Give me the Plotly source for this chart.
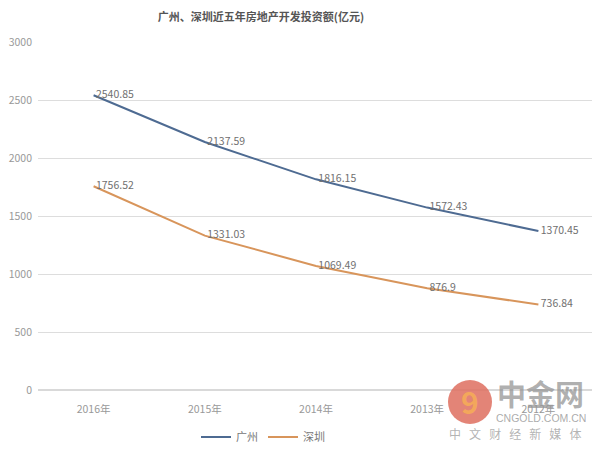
import plotly.graph_objects as go

years = ["2016年", "2015年", "2014年", "2013年", "2012年"]
guangzhou = [2540.85, 2137.59, 1816.15, 1572.43, 1370.45]
shenzhen = [1756.52, 1331.03, 1069.49, 876.9, 736.84]
y_ticks = [0, 500, 1000, 1500, 2000, 2500, 3000]

# page has an 8px body margin; figure sized to the visible area
W, H = 592, 442
L, R, T, B = 30, 6, 34, 60
PW, PH = W - L - R, H - T - B


def px(sx):  # screenshot x -> paper x
    return (sx - 8 - L) / PW


def py(sy):  # screenshot y -> paper y
    return (H - B - (sy - 8)) / PH


font_family = "Noto Sans CJK SC, sans-serif"
fig = go.Figure()
fig.add_trace(go.Scatter(
    x=years, y=guangzhou, name="广州", mode="lines+text",
    line=dict(color="#4E6B92", width=2),
    text=[" " + str(v) for v in guangzhou], textposition="middle right",
    textfont=dict(color="#707070", size=10.5),
))
fig.add_trace(go.Scatter(
    x=years, y=shenzhen, name="深圳", mode="lines+text",
    line=dict(color="#D8955B", width=2),
    text=[" " + str(v) for v in shenzhen], textposition="middle right",
    textfont=dict(color="#707070", size=10.5),
))

# watermark (logo)
fig.add_shape(type="circle", xref="paper", yref="paper",
              x0=px(448), x1=px(492), y0=py(424), y1=py(380),
              fillcolor="rgba(222,110,95,0.85)", line=dict(width=0), layer="above")
sp = "\u00a0\u00a0\u00a0"
annotations = [
    dict(text="<b>9</b>", x=px(470), y=py(401), font=dict(size=30, color="rgba(245,170,90,0.95)")),
    dict(text="<b>中金网</b>", x=px(540), y=py(393), font=dict(size=29, color="rgba(150,150,150,0.75)")),
    dict(text="CNGOLD.COM.CN", x=px(541), y=py(418), font=dict(size=10.5, color="rgba(150,150,150,0.8)",
                                                             family="Liberation Sans, sans-serif")),
    dict(text=sp.join("中文财经新媒体"), x=px(515), y=py(433),
         font=dict(size=12, color="rgba(160,160,160,0.8)")),
]
for a in annotations:
    a.update(xref="paper", yref="paper", showarrow=False, xanchor="center", yanchor="middle")

fig.update_layout(
    width=W, height=H,
    margin=dict(l=L, r=R, t=T, b=B, autoexpand=False),
    paper_bgcolor="white", plot_bgcolor="white",
    font=dict(family=font_family, color="#999999", size=11),
    annotations=annotations,
    title=dict(text="广州、深圳近五年房地产开发投资额(亿元)", xref="container", x=253 / W,
               xanchor="center", yref="container", y=1 - 9 / H, yanchor="middle",
               font=dict(size=11, color="#555555", weight=600)),
    showlegend=True,
    legend=dict(orientation="h", x=px(263), xanchor="center", y=py(437), yanchor="middle",
                font=dict(size=11, color="#777777"), itemwidth=30, tracegroupgap=0),
    xaxis=dict(type="category", range=[-0.5, 4.5], showgrid=False, showline=False,
               ticks="", ticklabelstandoff=11, tickfont=dict(size=10.5, color="#999999"),
               fixedrange=True),
    yaxis=dict(range=[0, 3000], tickvals=y_ticks, showgrid=True, gridcolor="#DDDDDD",
               gridwidth=1, zeroline=True, zerolinecolor="#D9D9D9", showline=False,
               ticks="", ticklabelstandoff=5, tickfont=dict(size=10.5, color="#999999")),
)

fig.write_html("out.html")
